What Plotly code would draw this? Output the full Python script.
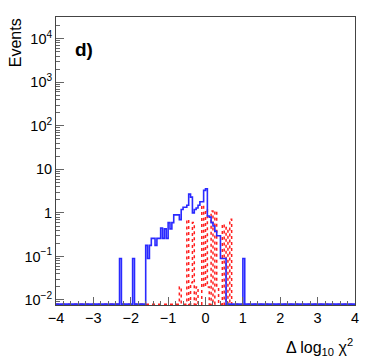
import numpy as np
import plotly.graph_objects as go

# ==================== DATA ====================

BIN_WIDTH = 0.05
X_MIN, X_MAX = -4.0, 4.0

# blue (solid) histogram: left edge of non-empty bins and their contents
blue_bin_lo = [
  -2.30, -1.95,
  -1.60, -1.55, -1.50, -1.45, -1.40, -1.35, -1.30, -1.25, -1.20, -1.15,
  -1.10, -1.05, -1.00, -0.95, -0.90, -0.85, -0.80, -0.75, -0.70, -0.65,
  -0.60, -0.55, -0.50, -0.45, -0.40, -0.35, -0.30, -0.25, -0.20, -0.15,
  -0.10, -0.05, 0.00, 0.05, 0.10, 0.15, 0.20, 0.25, 0.30, 0.35,
  0.40, 0.45, 0.50,
  1.00,
]
blue_counts = [
  0.09, 0.09,
  0.18, 0.09, 0.18, 0.26, 0.26, 0.18, 0.26, 0.26, 0.45, 0.26,
  0.43, 0.26, 0.60, 0.43, 0.60, 0.90, 0.90, 0.90, 0.70, 1.20,
  1.35, 1.35, 1.50, 2.70, 2.30, 1.00, 1.20, 1.30, 1.50, 1.80,
  1.80, 3.30, 3.60, 0.85, 0.80, 0.60, 0.50, 0.38, 0.30, 0.30,
  0.09, 0.09, 0.09,
  0.09,
]

# red (dotted) histogram
red_bin_lo = [
  -0.70, -0.50, -0.40, -0.35, -0.25, -0.10, -0.05, 0.00, 0.05,
  0.15, 0.25, 0.30, 0.45, 0.55, 0.65,
]
red_counts = [
  0.02, 0.70, 0.025, 0.60, 0.02, 1.50, 0.02, 1.20, 0.02,
  1.10, 1.10, 0.02, 0.55, 0.46, 0.72,
]

y_tick_vals = [0.01, 0.1, 1, 10, 100, 1000, 10000]
y_tick_text = ["10<sup>\u22122</sup>", "10<sup>\u22121</sup>", "1", "10",
               "10<sup>2</sup>", "10<sup>3</sup>", "10<sup>4</sup>"]

FONT = "Liberation Sans, Arial, Helvetica, sans-serif"
Y_LOG_RANGE = [-2.115, 4.5]
FLOOR = 10 ** (Y_LOG_RANGE[0] + 0.02)   # empty bins drawn on the frame bottom


def step_xy(bin_lo, counts):
  n = int(round((X_MAX - X_MIN) / BIN_WIDTH))
  edges = X_MIN + BIN_WIDTH * np.arange(n + 1)
  h = np.zeros(n)
  for lo, c in zip(bin_lo, counts):
    h[int(round((lo - X_MIN) / BIN_WIDTH))] = c
  h = np.maximum(h, FLOOR)
  return edges, np.append(h, h[-1])


fig = go.Figure()

rx, ry = step_xy(red_bin_lo, red_counts)
fig.add_trace(go.Scatter(
  x=rx, y=ry, mode="lines", line_shape="hv",
  line=dict(color="#ff2020", width=1.5, dash="dot"),
  showlegend=False, hoverinfo="skip",
))

bx, by = step_xy(blue_bin_lo, blue_counts)
fig.add_trace(go.Scatter(
  x=bx, y=by, mode="lines", line_shape="hv",
  line=dict(color="#2a2aff", width=1.6),
  showlegend=False, hoverinfo="skip",
))

minor_y = [m * 10.0 ** e for e in range(-3, 5) for m in range(2, 10)]

fig.update_xaxes(
  range=[X_MIN, X_MAX],
  showgrid=False, zeroline=False,
  showline=True, linecolor="#444", linewidth=1, mirror=True,
  ticks="inside", ticklen=8, tickcolor="#666", tickwidth=1,
  tickvals=[-4, -3, -2, -1, 0, 1, 2, 3, 4],
  minor=dict(ticks="inside", ticklen=4, tickcolor="#666", dtick=0.2, tick0=0),
  tickfont=dict(family=FONT, size=14.5, color="black"),
)
fig.update_yaxes(
  type="log", range=Y_LOG_RANGE,
  showgrid=False, zeroline=False,
  showline=True, linecolor="#444", linewidth=1, mirror=True,
  ticks="inside", ticklen=8, tickcolor="#666", tickwidth=1,
  tickvals=y_tick_vals, ticktext=y_tick_text,
  minor=dict(ticks="inside", ticklen=4, tickcolor="#666", tickvals=minor_y),
  tickfont=dict(family=FONT, size=14.5, color="black"),
)

# page body adds an 8px offset, so margins are shifted to keep the frame in place
fig.update_layout(
  width=374, height=359,
  margin=dict(l=48, r=27, t=9, b=62),
  paper_bgcolor="white", plot_bgcolor="white",
  font=dict(family=FONT, color="black"),
  annotations=[
    dict(text="Events", textangle=-90, xref="paper", yref="paper",
         x=-0.135, y=0.911, xanchor="center", yanchor="middle",
         showarrow=False, font=dict(size=16)),
    dict(text="\u0394 log<sub>10</sub> \u03c7<sup>2</sup>", xref="paper", yref="paper",
         x=1.0, y=-0.146, xanchor="right", yanchor="middle",
         showarrow=False, font=dict(size=16)),
    dict(text="<b>d)</b>", xref="paper", yref="paper",
         x=0.092, y=0.887, xanchor="center", yanchor="middle",
         showarrow=False, font=dict(size=19)),
  ],
)

fig.write_html("out.html")
